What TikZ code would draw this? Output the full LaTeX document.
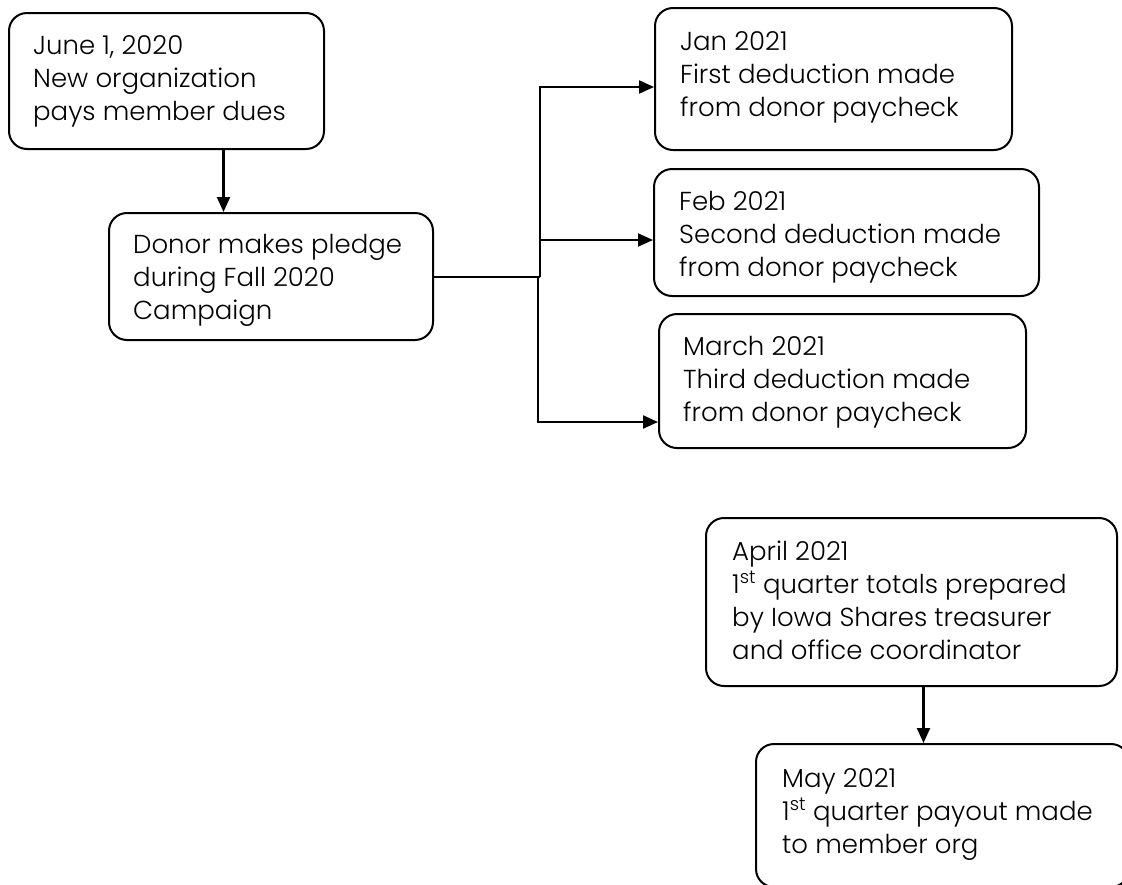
\documentclass[tikz,border=0pt]{standalone}
\usepackage{fontspec}
\setmainfont{Poppins Light}
\usetikzlibrary{arrows.meta,positioning}
\tikzset{
  evento/.style={
    draw=black,
    line width=2pt,
    rounded corners=18pt,
    anchor=north west,
    inner sep=0pt
  },
  leyenda/.style={
    anchor=base west,
    align=left,
    inner sep=0pt,
    font=\fontsize{26}{33}\selectfont
  },
  arrow/.style={
    -{Triangle[length=15pt,width=13pt]},
    line width=2.2pt
  }
}

\begin{document}
\begin{tikzpicture}[x=1pt,y=-1pt]
\clip (0,0) rectangle (1122,884);
% cajas
\node[evento,minimum width=315pt,minimum height=136pt] (june) at (8,12) {};
\node[evento,minimum width=324pt,minimum height=127pt] (donor) at (108,212) {};
\node[evento,minimum width=357pt,minimum height=142pt] (jan) at (654,7) {};
\node[evento,minimum width=385pt,minimum height=127pt] (feb) at (653,168) {};
\node[evento,minimum width=367pt,minimum height=134pt] (march) at (658,313) {};
\node[evento,minimum width=411pt,minimum height=168pt] (april) at (705,517) {};
\node[evento,minimum width=373pt,minimum height=143pt] (may) at (755,743) {};
% textos (base = ultima linea)
\node[leyenda] (june-t) at (33,120) {June 1, 2020\\New organization\\pays member dues};
\node[leyenda] (donor-t) at (133,319) {Donor makes pledge\\during Fall 2020\\Campaign};
\node[leyenda] (jan-t) at (680,116) {Jan 2021\\First deduction made\\from donor paycheck};
\node[leyenda] (feb-t) at (679,276) {Feb 2021\\Second deduction made\\from donor paycheck};
\node[leyenda] (march-t) at (683,421) {March 2021\\Third deduction made\\from donor paycheck};
\node[leyenda] (april-t) at (732,659)
  {April 2021\\1\textsuperscript{st} quarter totals prepared\\by Iowa Shares treasurer\\and office coordinator};
\node[leyenda] (may-t) at (782,853)
  {May 2021\\1\textsuperscript{st} quarter payout made\\to member org};
% flechas
\coordinate (j) at ([xshift=57pt]june.south);
\draw[arrow] (j) -- (j |- donor.north);
\coordinate (fork) at (540,277);
\coordinate (forkb) at (538,277);
\coordinate (febfork) at (540,240);
\draw[line width=2.2pt] (donor.east |- fork) -- (fork);
\draw[arrow] (fork) |- ([yshift=-8pt]jan.west);
\draw[arrow] (febfork) -- (feb.west |- febfork);
\draw[arrow] (forkb) |- ([yshift=-41pt]march.west);
\coordinate (a) at ([xshift=12pt]april.south);
\draw[arrow] (a) -- (a |- may.north);
\end{tikzpicture}
\end{document}
